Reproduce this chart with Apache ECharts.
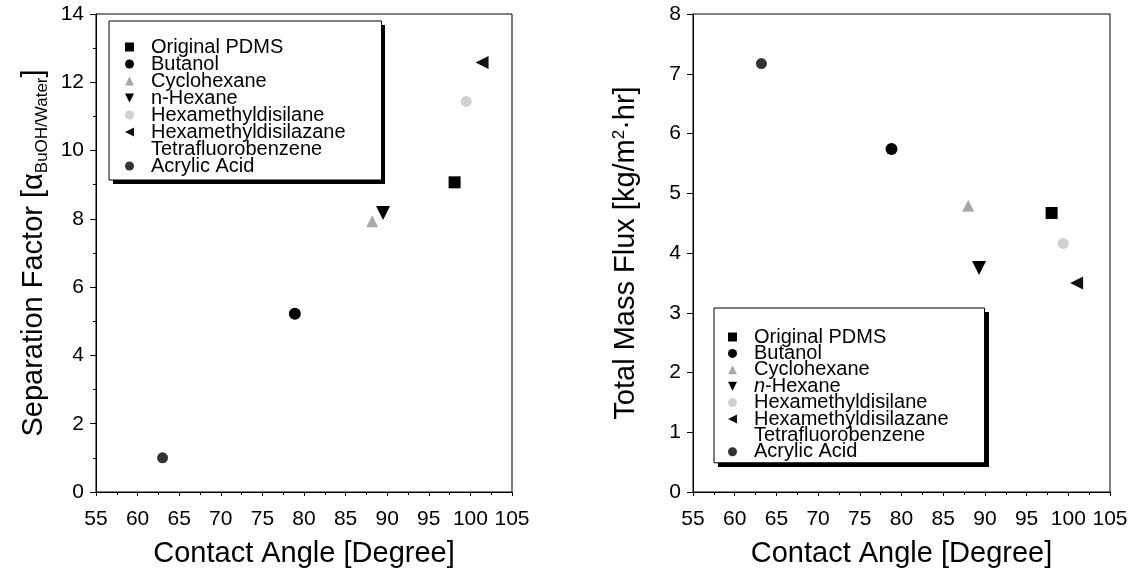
<!DOCTYPE html>
<html>
<head>
<meta charset="utf-8">
<script src="https://cdn.jsdelivr.net/npm/echarts@6/dist/echarts.min.js"></script>
<style>
  html, body { margin: 0; padding: 0; background: #fff; }
  #main { width: 1135px; height: 578px; }
</style>
</head>
<body>
<div id="main"></div>
<script>
// 数据
const names = ['Original PDMS', 'Butanol', 'Cyclohexane', 'n-Hexane', 'Hexamethyldisilane', 'Hexamethyldisilazane', 'Tetrafluorobenzene', 'Acrylic Acid'];
const sepAngle = [98.1, 78.9, 88.2, 89.5, 99.5, 101.4, null, 63.0];
const sepFactor = [9.07, 5.22, 7.93, 8.17, 11.44, 12.58, null, 1.0];
const fluxAngle = [98.0, 78.8, 88.0, 89.3, 99.4, 101.0, null, 63.2];
const totalFlux = [4.67, 5.74, 4.79, 3.75, 4.16, 3.50, null, 7.17];
const xTicks = [55, 105, 5];

// 样式
const symbols = ['rect', 'circle', 'triangle', 'path://M0,0 L10,0 L5,10 Z', 'circle', 'path://M10,0 L10,10 L0,5 Z', 'circle', 'circle'];
const colors = ['#000', '#000', '#a8a8a8', '#000', '#d0d0d0', '#111', '#fff', '#333'];
const sizes = [12, 12, 12, 14, 11, 13, 11, 11];
const font = "'Liberation Sans', Arial, sans-serif";

$init();

function $init() {
    let chart = echarts.init(document.getElementById('main'));
    chart.setOption(buildOption());
}

function xAxis(gridIndex) {
    return {
        type: 'value', gridIndex: gridIndex,
        min: xTicks[0], max: xTicks[1], interval: xTicks[2],
        name: 'Contact Angle [Degree]',
        nameLocation: 'middle', nameGap: 47,
        nameTextStyle: { fontSize: 29, color: '#000', fontFamily: font },
        axisLine: { lineStyle: { color: '#000', width: 1 } },
        axisTick: { inside: false, length: 4, lineStyle: { color: '#000' } },
        minorTick: { show: true, splitNumber: 2, length: 3, lineStyle: { color: '#000' } },
        axisLabel: { fontSize: 21, color: '#000', fontFamily: font, margin: 17, showMinLabel: true, showMaxLabel: true },
        splitLine: { show: false }
    };
}

function yAxis(gridIndex, max, interval, name, gap, rich) {
    return {
        type: 'value', gridIndex: gridIndex,
        min: 0, max: max, interval: interval,
        name: name, nameLocation: 'middle', nameRotate: 90, nameGap: gap,
        nameTextStyle: { fontSize: 29, color: '#000', fontFamily: font, rich: rich },
        axisLine: { show: true, lineStyle: { color: '#000', width: 1 } },
        axisTick: { show: true, length: 6, lineStyle: { color: '#000' } },
        minorTick: { show: interval > 1, splitNumber: 2, length: 3, lineStyle: { color: '#000' } },
        axisLabel: { fontSize: 21, color: '#000', fontFamily: font, margin: 12 },
        splitLine: { show: false }
    };
}

function legend(left, top, gap, padding, italicN) {
    return {
        orient: 'vertical', left: left, top: top,
        data: names.map(function(name, i) {
            return { name: name, icon: symbols[i] };
        }),
        itemWidth: 9, itemHeight: 9, itemGap: gap,
        symbolKeepAspect: true,
        padding: padding,
        backgroundColor: '#fff',
        borderColor: '#000', borderWidth: 1, borderRadius: 0,
        selectedMode: false,
        z: 5,
        formatter: function(name) {
            if (italicN && name === 'n-Hexane') return '{i|n}-Hexane';
            return name;
        },
        textStyle: {
            fontSize: 20, color: '#000', fontFamily: font,
            padding: [0, 0, 0, 12],
            rich: { i: { fontSize: 20, fontStyle: 'italic', fontFamily: font, color: '#000' } }
        }
    };
}

// 图例阴影
function shadow(x, y, w, h) {
    return { type: 'rect', z: 4, silent: true, shape: { x: x, y: y, width: w, height: h }, style: { fill: '#000' } };
}

function buildOption() {
    let series = [];
    names.forEach(function(name, i) {
        let common = {
            name: name, type: 'scatter',
            symbol: symbols[i], symbolSize: sizes[i],
            itemStyle: { color: colors[i], opacity: 1 },
            emphasis: { disabled: true },
            z: 3
        };
        series.push(Object.assign({}, common, {
            xAxisIndex: 0, yAxisIndex: 0,
            data: sepAngle[i] === null ? [] : [[sepAngle[i], sepFactor[i]]]
        }));
        series.push(Object.assign({}, common, {
            xAxisIndex: 1, yAxisIndex: 1,
            data: fluxAngle[i] === null ? [] : [[fluxAngle[i], totalFlux[i]]]
        }));
    });

    return {
        backgroundColor: '#fff',
        animation: false,
        grid: [
            { left: 96, right: 1135 - 512, top: 14, bottom: 578 - 492, show: true, borderColor: '#000', borderWidth: 1, backgroundColor: 'transparent' },
            { left: 693, right: 1135 - 1110, top: 14, bottom: 578 - 492, show: true, borderColor: '#000', borderWidth: 1, backgroundColor: 'transparent' }
        ],
        legend: [
            legend(109, 21, -3, [16, 36, 4, 16], false),
            legend(714, 308, -3.6, [19, 36, 1, 14], true)
        ],
        graphic: [
            shadow(113, 25, 272, 159),
            shadow(718, 312, 271, 155)
        ],
        xAxis: [xAxis(0), xAxis(1)],
        yAxis: [
            yAxis(0, 14, 2, 'Separation Factor [{a|α}{sub|BuOH/Water}]', 45, {
                a: { fontSize: 29, fontFamily: font, color: '#000' },
                sub: { fontSize: 17, fontFamily: font, color: '#000', verticalAlign: 'bottom', lineHeight: 34 }
            }),
            yAxis(1, 8, 1, 'Total Mass Flux [kg/m{sup|2}·hr]', 52, {
                sup: { fontSize: 17, fontFamily: font, color: '#000', verticalAlign: 'top', lineHeight: 30 }
            })
        ],
        series: series
    };
}
</script>
</body>
</html>
